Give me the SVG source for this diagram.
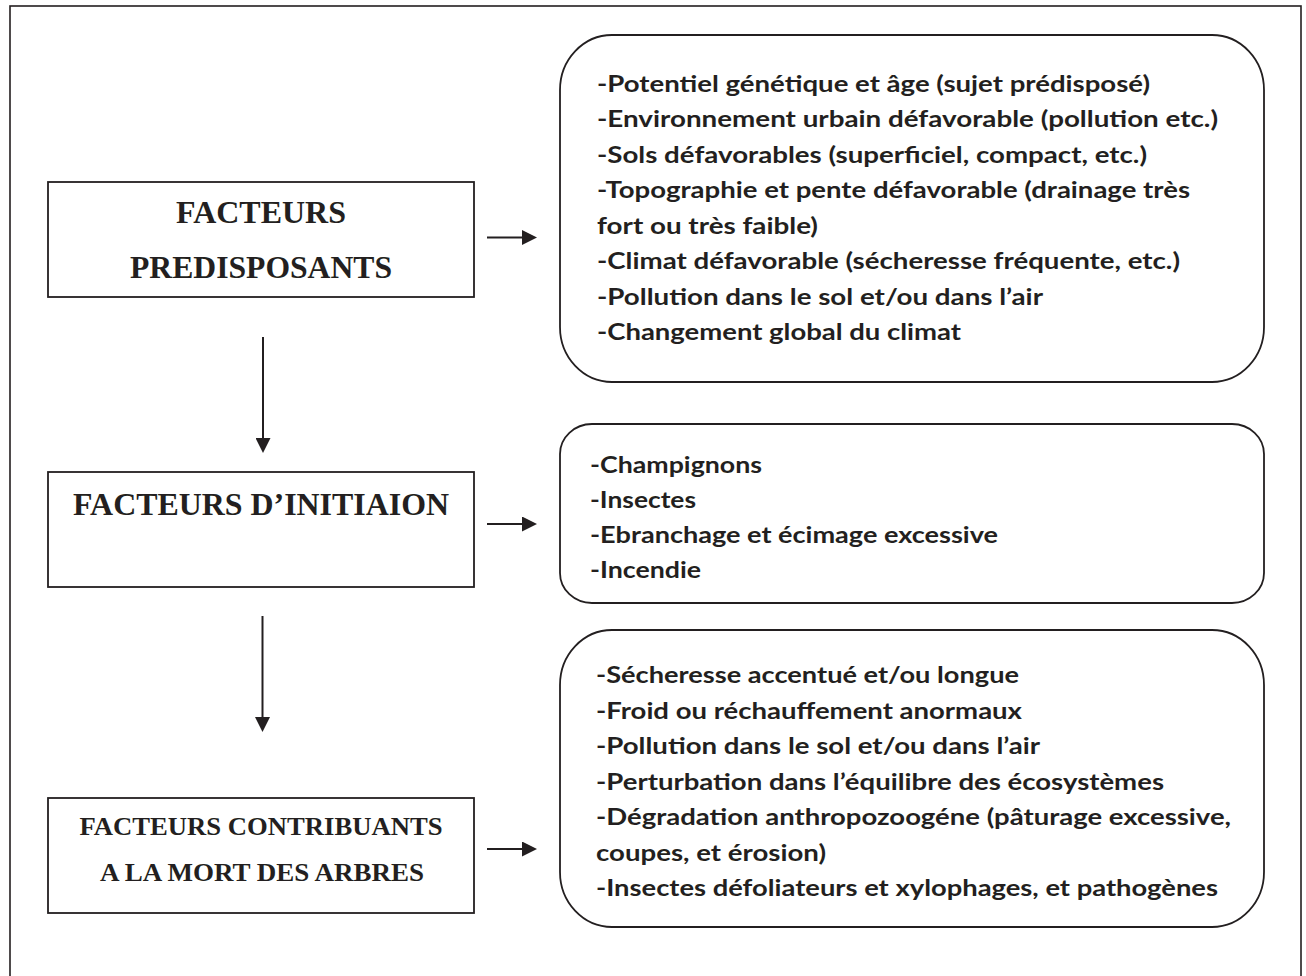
<svg xmlns="http://www.w3.org/2000/svg" width="1306" height="976" viewBox="0 0 1306 976">
  <style>
    .frame { fill: none; stroke: #231f20; stroke-width: 1.6; }
    .box { fill: #ffffff; stroke: #231f20; stroke-width: 1.8; }
    .rbox { fill: #ffffff; stroke: #231f20; stroke-width: 1.8; }
    .title { font-family: "Liberation Serif", "Times New Roman", serif; font-weight: bold; fill: #231f20; text-anchor: middle; }
    .item { font-family: Lato, "Open Sans", sans-serif; font-weight: bold; font-size: 23px; fill: #231f20; }
    .conn { stroke: #231f20; stroke-width: 2; fill: none; }
  </style>
  <defs>
    <marker id="ah" markerUnits="userSpaceOnUse" markerWidth="15" markerHeight="15" refX="0" refY="7.5" orient="auto">
      <path d="M0,0 L15,7.5 L0,15 z" fill="#231f20"/>
    </marker>
  </defs>
  <rect class="frame" x="10" y="6" width="1291" height="985"/>

  <g id="node-predisposants">
    <rect class="box" x="48" y="182" width="426" height="115"/>
    <text class="title" x="261" y="222.5" font-size="32" textLength="170" lengthAdjust="spacingAndGlyphs">FACTEURS</text>
    <text class="title" x="261" y="277.5" font-size="32" textLength="262" lengthAdjust="spacingAndGlyphs">PREDISPOSANTS</text>
  </g>
  <g id="node-initiation">
    <rect class="box" x="48" y="472" width="426" height="115"/>
    <text class="title" x="261" y="515" font-size="32" textLength="376" lengthAdjust="spacingAndGlyphs">FACTEURS D’INITIAION</text>
  </g>
  <g id="node-contribuants">
    <rect class="box" x="48" y="798" width="426" height="115"/>
    <text class="title" x="261" y="835" font-size="25.5" textLength="363" lengthAdjust="spacingAndGlyphs">FACTEURS CONTRIBUANTS</text>
    <text class="title" x="262" y="881" font-size="25.5" textLength="324" lengthAdjust="spacingAndGlyphs">A LA MORT DES ARBRES</text>
  </g>

  <g id="list-predisposants">
    <rect class="rbox" x="560" y="35" width="704" height="347" rx="52" ry="55"/>
    <text class="item" x="597" y="91.5" textLength="553" lengthAdjust="spacingAndGlyphs">-Potentiel génétique et âge (sujet prédisposé)</text>
    <text class="item" x="597" y="127" textLength="621" lengthAdjust="spacingAndGlyphs">-Environnement urbain défavorable (pollution etc.)</text>
    <text class="item" x="597" y="162.5" textLength="550" lengthAdjust="spacingAndGlyphs">-Sols défavorables (superficiel, compact, etc.)</text>
    <text class="item" x="597" y="198" textLength="593" lengthAdjust="spacingAndGlyphs">-Topographie et pente défavorable (drainage très</text>
    <text class="item" x="597" y="233.5" textLength="221" lengthAdjust="spacingAndGlyphs">fort ou très faible)</text>
    <text class="item" x="597" y="269" textLength="583" lengthAdjust="spacingAndGlyphs">-Climat défavorable (sécheresse fréquente, etc.)</text>
    <text class="item" x="597" y="304.5" textLength="446" lengthAdjust="spacingAndGlyphs">-Pollution dans le sol et/ou dans l’air</text>
    <text class="item" x="597" y="340" textLength="364" lengthAdjust="spacingAndGlyphs">-Changement global du climat</text>
  </g>
  <g id="list-initiation">
    <rect class="rbox" x="560" y="424" width="704" height="179" rx="32" ry="30"/>
    <text class="item" x="590" y="472.5" textLength="172" lengthAdjust="spacingAndGlyphs">-Champignons</text>
    <text class="item" x="590" y="507.5" textLength="106" lengthAdjust="spacingAndGlyphs">-Insectes</text>
    <text class="item" x="590" y="542.5" textLength="408" lengthAdjust="spacingAndGlyphs">-Ebranchage et écimage excessive</text>
    <text class="item" x="590" y="577.5" textLength="111" lengthAdjust="spacingAndGlyphs">-Incendie</text>
  </g>
  <g id="list-contribuants">
    <rect class="rbox" x="560" y="630" width="704" height="297" rx="52" ry="55"/>
    <text class="item" x="596" y="683" textLength="423" lengthAdjust="spacingAndGlyphs">-Sécheresse accentué et/ou longue</text>
    <text class="item" x="596" y="718.5" textLength="426" lengthAdjust="spacingAndGlyphs">-Froid ou réchauffement anormaux</text>
    <text class="item" x="596" y="754" textLength="444" lengthAdjust="spacingAndGlyphs">-Pollution dans le sol et/ou dans l’air</text>
    <text class="item" x="596" y="789.5" textLength="568" lengthAdjust="spacingAndGlyphs">-Perturbation dans l’équilibre des écosystèmes</text>
    <text class="item" x="596" y="825" textLength="635" lengthAdjust="spacingAndGlyphs">-Dégradation anthropozoogéne (pâturage excessive,</text>
    <text class="item" x="596" y="860.5" textLength="230" lengthAdjust="spacingAndGlyphs">coupes, et érosion)</text>
    <text class="item" x="596" y="896" textLength="622" lengthAdjust="spacingAndGlyphs">-Insectes défoliateurs et xylophages, et pathogènes</text>
  </g>

  <g id="connectors">
    <line class="conn" x1="263" y1="337" x2="263" y2="438" marker-end="url(#ah)"/>
    <line class="conn" x1="262.5" y1="616" x2="262.5" y2="717" marker-end="url(#ah)"/>
    <line class="conn" x1="487" y1="237.5" x2="522" y2="237.5" marker-end="url(#ah)"/>
    <line class="conn" x1="487" y1="524" x2="522" y2="524" marker-end="url(#ah)"/>
    <line class="conn" x1="487" y1="849" x2="522" y2="849" marker-end="url(#ah)"/>
  </g>
</svg>
